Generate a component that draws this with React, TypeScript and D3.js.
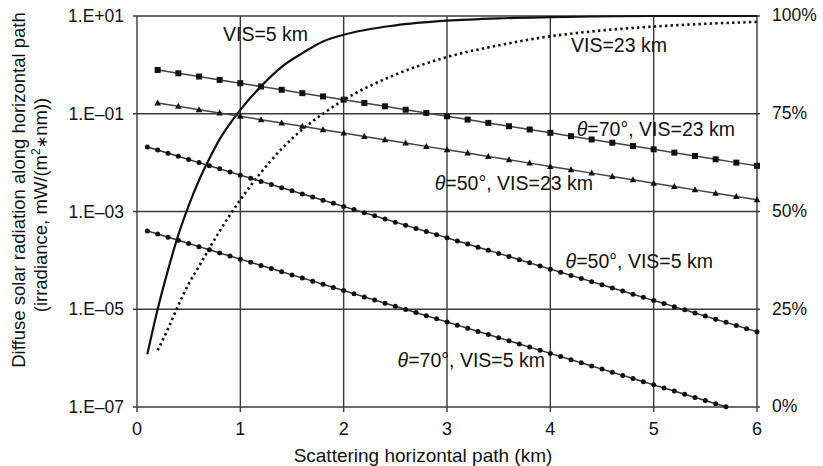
import React from "react";
import * as d3 from "d3";

const W = 823;
const H = 466;

const xTicks = [0, 1, 2, 3, 4, 5, 6];
const yTicks = [1e1, 1e-1, 1e-3, 1e-5, 1e-7];
const yTickLabels = ["1.E+01", "1.E\u201301", "1.E\u201303", "1.E\u201305", "1.E\u201307"];
const pctTicks = [100, 75, 50, 25, 0];
const pctLabels = ["100%", "75%", "50%", "25%", "0%"];

// theta=70°, VIS=23 km (squares) and theta=50°, VIS=23 km (triangles)
const xStep02 = [0.2, 0.4, 0.6, 0.8, 1.0, 1.2, 1.4, 1.6, 1.8, 2.0, 2.2, 2.4, 2.6, 2.8, 3.0, 3.2, 3.4, 3.6, 3.8, 4.0, 4.2, 4.4, 4.6, 4.8, 5.0, 5.2, 5.4, 5.6, 5.8, 6.0];
const t70v23 = [0.787, 0.673, 0.577, 0.493, 0.422, 0.361, 0.309, 0.264, 0.226, 0.194, 0.166, 0.142, 0.121, 0.104, 0.0888, 0.076, 0.065, 0.0556, 0.0476, 0.0407, 0.0348, 0.0298, 0.0255, 0.0218, 0.0187, 0.016, 0.0137, 0.0117, 0.01, 0.0086];
const t50v23 = [0.166, 0.142, 0.121, 0.104, 0.0886, 0.0757, 0.0647, 0.0552, 0.0472, 0.0403, 0.0344, 0.0294, 0.0251, 0.0215, 0.0183, 0.0157, 0.0134, 0.0114, 0.00977, 0.00834, 0.00713, 0.0061, 0.0052, 0.00445, 0.00379, 0.00324, 0.00277, 0.00237, 0.00202, 0.00173];

// theta=50°, VIS=5 km and theta=70°, VIS=5 km (small dots)
const xStep01 = [0.1, 0.2, 0.3, 0.4, 0.5, 0.6, 0.7, 0.8, 0.9, 1.0, 1.1, 1.2, 1.3, 1.4, 1.5, 1.6, 1.7, 1.8, 1.9, 2.0, 2.1, 2.2, 2.3, 2.4, 2.5, 2.6, 2.7, 2.8, 2.9, 3.0, 3.1, 3.2, 3.3, 3.4, 3.5, 3.6, 3.7, 3.8, 3.9, 4.0, 4.1, 4.2, 4.3, 4.4, 4.5, 4.6, 4.7, 4.8, 4.9, 5.0, 5.1, 5.2, 5.3, 5.4, 5.5, 5.6, 5.7, 5.8, 5.9, 6.0];
const t50v5 = [0.02094, 0.01807, 0.01559, 0.01345, 0.0116, 0.01001, 0.008637, 0.007452, 0.00643, 0.005548, 0.004787, 0.00413, 0.003563, 0.003074, 0.002652, 0.002288, 0.001974, 0.001703, 0.00147, 0.001268, 0.001094, 0.000944, 0.000815, 0.000703, 0.000606, 0.000523, 0.000451, 0.000389, 0.000336, 0.00029, 0.00025, 0.000216, 0.000186, 0.000161, 0.000139, 0.00012, 0.000103, 8.9e-5, 7.68e-5, 6.62e-5, 5.71e-5, 4.93e-5, 4.25e-5, 3.67e-5, 3.17e-5, 2.73e-5, 2.36e-5, 2.03e-5, 1.75e-5, 1.51e-5, 1.31e-5, 1.13e-5, 9.72e-6, 8.39e-6, 7.24e-6, 6.24e-6, 5.39e-6, 4.65e-6, 4.01e-6, 3.46e-6];
const t70v5 = [4.01e-4, 3.46e-4, 2.98e-4, 2.57e-4, 2.22e-4, 1.91e-4, 1.65e-4, 1.42e-4, 1.23e-4, 1.06e-4, 9.13e-5, 7.87e-5, 6.79e-5, 5.86e-5, 5.05e-5, 4.36e-5, 3.76e-5, 3.24e-5, 2.79e-5, 2.41e-5, 2.08e-5, 1.79e-5, 1.55e-5, 1.33e-5, 1.15e-5, 9.92e-6, 8.55e-6, 7.38e-6, 6.36e-6, 5.49e-6, 4.73e-6, 4.08e-6, 3.52e-6, 3.04e-6, 2.62e-6, 2.26e-6, 1.95e-6, 1.68e-6, 1.45e-6, 1.25e-6, 1.08e-6, 9.3e-7, 8.02e-7, 6.91e-7, 5.96e-7, 5.14e-7, 4.43e-7, 3.82e-7, 3.3e-7, 2.84e-7, 2.45e-7, 2.12e-7, 1.82e-7, 1.57e-7, 1.36e-7, 1.17e-7, 1.01e-7];

// cumulative share curves (right axis, %)
const xVis5 = [0.1, 0.2, 0.3, 0.4, 0.5, 0.6, 0.7, 0.8, 0.9, 1.0, 1.2, 1.4, 1.6, 1.8, 2.0, 2.5, 3.0, 3.5, 4.0, 5.0, 6.0];
const pctVis5 = [13.5, 25, 35, 44, 51.5, 58, 63.5, 68.5, 72.5, 76, 82, 87, 90.5, 93.5, 95.2, 97.6, 98.8, 99.4, 99.7, 100, 100];
const xVis23 = [0.2, 0.3, 0.4, 0.5, 0.6, 0.8, 1.0, 1.2, 1.4, 1.6, 1.8, 2.0, 2.5, 3.0, 3.5, 4.0, 4.5, 5.0, 5.5, 6.0];
const pctVis23 = [14.5, 20, 26, 31.5, 36, 45, 53, 60, 66, 71, 75, 78.5, 85, 89.5, 92.5, 94.8, 96.3, 97.3, 98.0, 98.5];

const FONT = "Liberation Sans, Arial, Helvetica, sans-serif";

export default function App() {
  const x = d3.scaleLinear().domain([0, 6]).range([137, 757]);
  const y = d3.scaleLog().domain([1e-7, 1e1]).range([407, 16]);
  const yp = d3.scaleLinear().domain([0, 100]).range([407, 16]);

  const logLine = (xs: number[], vs: number[]) =>
    d3.line<number>().x((_, i) => x(xs[i])).y((v) => y(v))(vs) || "";
  const pctLine = (xs: number[], vs: number[]) =>
    d3
      .line<number>()
      .x((_, i) => x(xs[i]))
      .y((v) => yp(v))
      .curve(d3.curveMonotoneX)(vs) || "";

  const gridColor = "#3a3a3a";
  const [x0, x1] = x.range();
  const [yb, yt] = y.range();

  return (
    <svg width={W} height={H} style={{ display: "block", position: "absolute", left: 0, top: 0 }} fontFamily={FONT}>
      <rect width={W} height={H} fill="#fff" />
      {/* gridlines */}
      {xTicks.map((t) => (
        <line key={"gx" + t} x1={x(t)} x2={x(t)} y1={yt} y2={yb + 5} stroke={gridColor} strokeWidth={1.4} />
      ))}
      {yTicks.map((t) => (
        <line key={"gy" + t} x1={x0 - 4} x2={x1 + 3} y1={y(t)} y2={y(t)} stroke={gridColor} strokeWidth={1.4} />
      ))}
      {/* tick labels */}
      {yTicks.map((t, i) => (
        <text key={"yl" + t} x={124} y={y(t)} dy="0.35em" textAnchor="end" fontSize={17.5} fill="#111">
          {yTickLabels[i]}
        </text>
      ))}
      {pctTicks.map((t, i) => (
        <text key={"pl" + t} x={772} y={yp(t)} dy="0.3em" textAnchor="start" fontSize={17.5} fill="#111">
          {pctLabels[i]}
        </text>
      ))}
      {xTicks.map((t) => (
        <text key={"xl" + t} x={x(t)} y={435} textAnchor="middle" fontSize={18} fill="#111">
          {t}
        </text>
      ))}
      <text x={423} y={462} textAnchor="middle" fontSize={19} fill="#111">
        Scattering horizontal path (km)
      </text>
      <text transform="translate(25,190) rotate(-90)" textAnchor="middle" fontSize={18.5} fill="#111">
        Diffuse solar radiation along horizontal path
      </text>
      <text transform="translate(47,205) rotate(-90)" textAnchor="middle" fontSize={18.5} fill="#111">
        (irradiance, mW/(m<tspan fontSize={12} dy={-7}>2</tspan>
        <tspan dy={7} fontFamily="DejaVu Sans" fontSize={15}>{"\u2217"}</tspan>
        <tspan>nm))</tspan>
      </text>

      {/* cumulative curves */}
      <path d={pctLine(xVis5, pctVis5)} fill="none" stroke="#111" strokeWidth={2.2} />
      <path d={pctLine(xVis23, pctVis23)} fill="none" stroke="#111" strokeWidth={2.6} strokeDasharray="2.4,3.2" />

      {/* series lines */}
      <path d={logLine(xStep02, t70v23)} fill="none" stroke="#444" strokeWidth={1.5} />
      <path d={logLine(xStep02, t50v23)} fill="none" stroke="#444" strokeWidth={1.5} />
      <path d={logLine(xStep01, t50v5)} fill="none" stroke="#333" strokeWidth={1.5} />
      <path d={logLine(xStep01.slice(0, t70v5.length), t70v5)} fill="none" stroke="#333" strokeWidth={1.5} />

      {/* markers */}
      {t70v23.map((v, i) => (
        <rect key={"s" + i} x={x(xStep02[i]) - 3} y={y(v) - 3} width={6} height={6} fill="#111" />
      ))}
      {t50v23.map((v, i) => {
        const cx = x(xStep02[i]);
        const cy = y(v);
        return <path key={"t" + i} d={`M${cx},${cy - 3.5}L${cx + 3.3},${cy + 2.5}L${cx - 3.3},${cy + 2.5}Z`} fill="#111" />;
      })}
      {t50v5.map((v, i) => (
        <circle key={"c" + i} cx={x(xStep01[i])} cy={y(v)} r={2.5} fill="#111" />
      ))}
      {t70v5.map((v, i) => (
        <circle key={"d" + i} cx={x(xStep01[i])} cy={y(v)} r={2.5} fill="#111" />
      ))}

      {/* annotations */}
      <g fontSize={19.5} fill="#111">
        <text x={223} y={41}>VIS=5 km</text>
        <text x={571} y={52}>VIS=23 km</text>
        <text x={735} y={136} textAnchor="end">
          <tspan fontStyle="italic">θ</tspan>=70°, VIS=23 km
        </text>
        <text x={593} y={190} textAnchor="end">
          <tspan fontStyle="italic">θ</tspan>=50°, VIS=23 km
        </text>
        <text x={713} y={268} textAnchor="end">
          <tspan fontStyle="italic">θ</tspan>=50°, VIS=5 km
        </text>
        <text x={545} y={367} textAnchor="end">
          <tspan fontStyle="italic">θ</tspan>=70°, VIS=5 km
        </text>
      </g>
    </svg>
  );
}
